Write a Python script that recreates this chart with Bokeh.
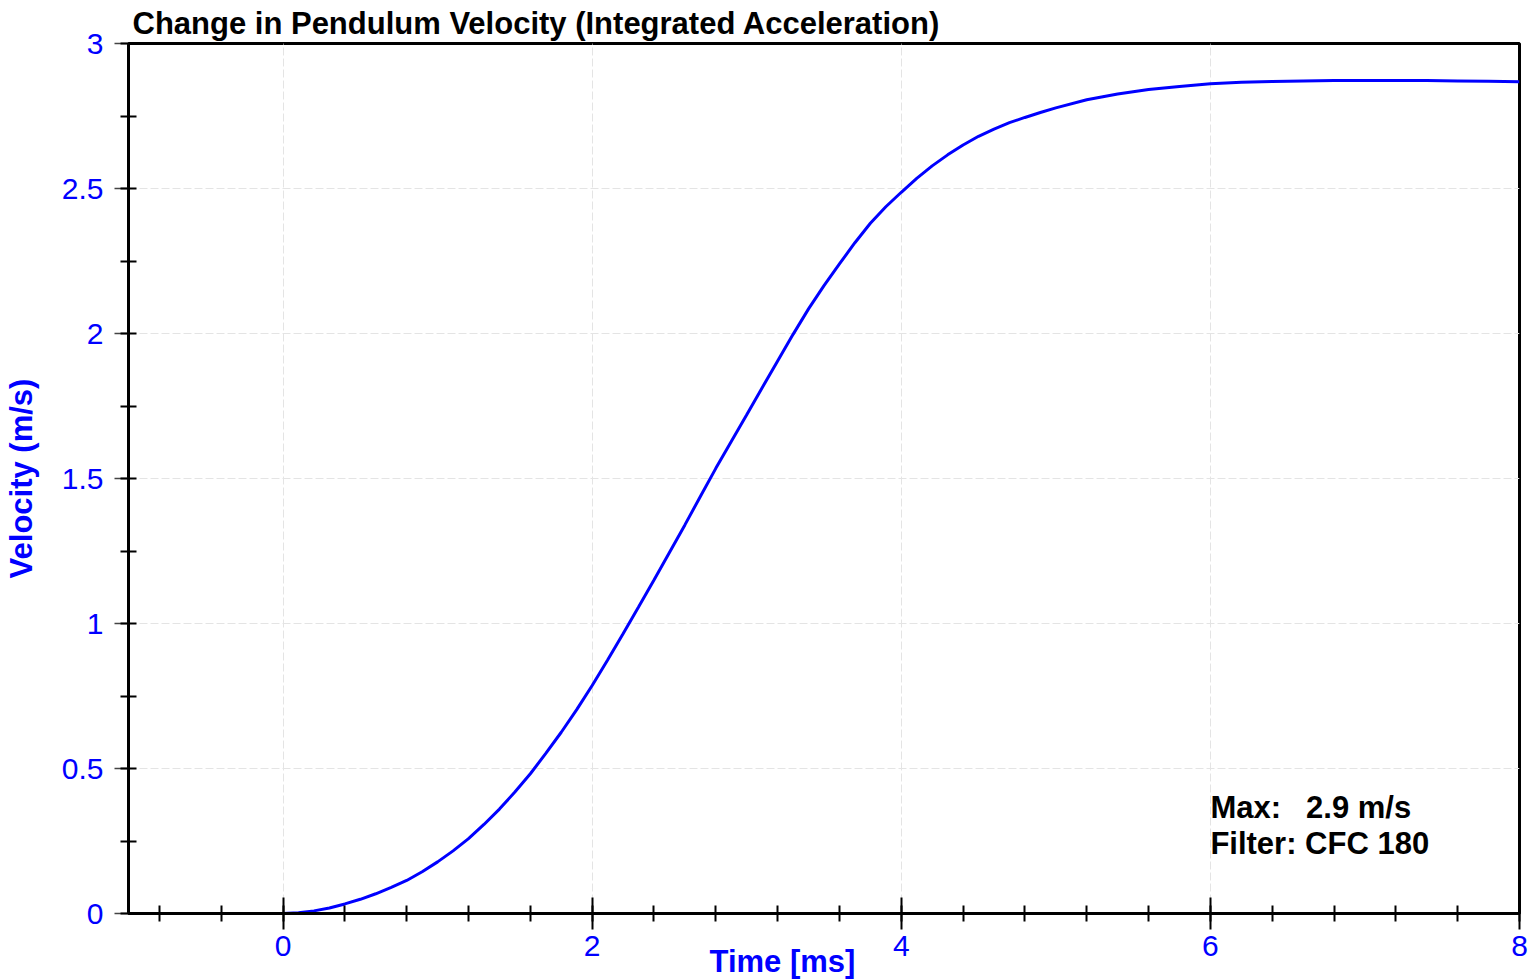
from bokeh.plotting import figure
from bokeh.models import Range1d, SingleIntervalTicker, NumeralTickFormatter, Label, Title
from bokeh.embed import file_html
from bokeh.resources import INLINE

# ---- data ----
time_ms = [0.0, 0.1, 0.2, 0.3, 0.4, 0.5, 0.6, 0.7, 0.8, 0.9, 1.0, 1.1, 1.2, 1.3, 1.4,
           1.5, 1.6, 1.7, 1.8, 1.9, 2.0, 2.1, 2.2, 2.3, 2.4, 2.5, 2.6, 2.7, 2.8, 2.9,
           3.0, 3.1, 3.2, 3.3, 3.4, 3.5, 3.6, 3.7, 3.8, 3.9, 4.0, 4.1, 4.2, 4.3, 4.4,
           4.5, 4.6, 4.7, 4.8, 4.9, 5.0, 5.2, 5.4, 5.6, 5.8, 6.0, 6.2, 6.4, 6.6, 6.8,
           7.0, 7.2, 7.4, 7.6, 7.8, 8.0]
velocity = [0.0, 0.003, 0.009, 0.019, 0.033, 0.049, 0.068, 0.090, 0.114, 0.144, 0.178,
            0.216, 0.258, 0.307, 0.360, 0.419, 0.482, 0.552, 0.625, 0.703, 0.786, 0.874,
            0.965, 1.057, 1.150, 1.245, 1.340, 1.438, 1.535, 1.628, 1.720, 1.813, 1.905,
            1.997, 2.085, 2.165, 2.240, 2.313, 2.380, 2.437, 2.487, 2.535, 2.578, 2.616,
            2.650, 2.680, 2.705, 2.727, 2.745, 2.762, 2.778, 2.806, 2.826, 2.841, 2.852,
            2.861, 2.866, 2.869, 2.871, 2.872, 2.872, 2.872, 2.872, 2.871, 2.870, 2.868]

title_text = "Change in Pendulum Velocity (Integrated Acceleration)"
x_label = "Time [ms]"
y_label = "Velocity (m/s)"
note_max_key = "Max:"
note_max_val = "2.9 m/s"
note_filter = "Filter: CFC 180"

FONT = "Liberation Sans"
BLUE = "#0000FF"

p = figure(width=1534, height=979, output_backend="svg", toolbar_location=None,
           x_range=Range1d(-1, 8), y_range=Range1d(0, 3),
           min_border_left=127, min_border_right=15, min_border_top=43, min_border_bottom=66)
p.background_fill_color = "white"
p.border_fill_color = "white"
p.outline_line_color = "black"
p.outline_line_width = 3

# title
p.title.text = title_text
p.title.align = "left"
p.title.offset = 4
p.title.standoff = 6
p.title.text_font = FONT
p.title.text_font_size = "31px"
p.title.text_font_style = "bold"
p.title.text_color = "black"

# x axis
xa = p.xaxis[0]
xa.ticker = SingleIntervalTicker(interval=2, num_minor_ticks=5)
xa.axis_line_color = "black"
xa.axis_line_width = 3
xa.major_tick_in = 16
xa.major_tick_out = 16
xa.major_tick_line_color = "black"
xa.major_tick_line_width = 2
xa.minor_tick_in = 8
xa.minor_tick_out = 8
xa.minor_tick_line_color = "black"
xa.minor_tick_line_width = 2
xa.major_label_text_color = BLUE
xa.major_label_text_font = FONT
xa.major_label_text_font_size = "30px"
xa.major_label_standoff = 6

# x axis label (offset to the left of centre, as in the original)
xt = Title(text=x_label, align="left", offset=581, standoff=-34,
           text_font=FONT, text_font_size="31px", text_font_style="bold",
           text_color=BLUE)
p.add_layout(xt, "below")

# y axis
ya = p.yaxis[0]
ya.ticker = SingleIntervalTicker(interval=0.5, num_minor_ticks=2)
ya.formatter = NumeralTickFormatter(format="0.[0]")
ya.axis_line_color = "black"
ya.axis_line_width = 3
ya.major_tick_in = 0
ya.major_tick_out = 14
ya.major_tick_line_color = "#444444"
ya.major_tick_line_width = 1.5
ya.minor_tick_in = 8
ya.minor_tick_out = 8
ya.minor_tick_line_color = "black"
ya.minor_tick_line_width = 2
ya.major_label_text_color = BLUE
ya.major_label_text_font = FONT
ya.major_label_text_font_size = "30px"
ya.major_label_standoff = 11
ya.axis_label = y_label
ya.axis_label_text_font = FONT
ya.axis_label_text_font_size = "31px"
ya.axis_label_text_font_style = "bold"
ya.axis_label_text_color = BLUE
ya.axis_label_standoff = 20

# grid
for g in (p.xgrid[0], p.ygrid[0]):
    g.grid_line_color = "#e4e4e4"
    g.grid_line_dash = "8 3"
    g.grid_line_width = 1
p.xgrid[0].ticker = xa.ticker
p.ygrid[0].ticker = ya.ticker

p.line(time_ms, velocity, line_color=BLUE, line_width=3)

def lab(x, y, text, **kw):
    opts = dict(text_font=FONT, text_font_size="31px", text_font_style="bold",
                text_color="black", text_baseline="middle", text_align="left")
    opts.update(kw)
    p.add_layout(Label(x=x, y=y, text=text, **opts))

lab(6.0, 0.365, note_max_key)
lab(6.619, 0.365, note_max_val)
lab(6.0, 0.241, note_filter)

open("out.html", "w").write(file_html(p, INLINE))
